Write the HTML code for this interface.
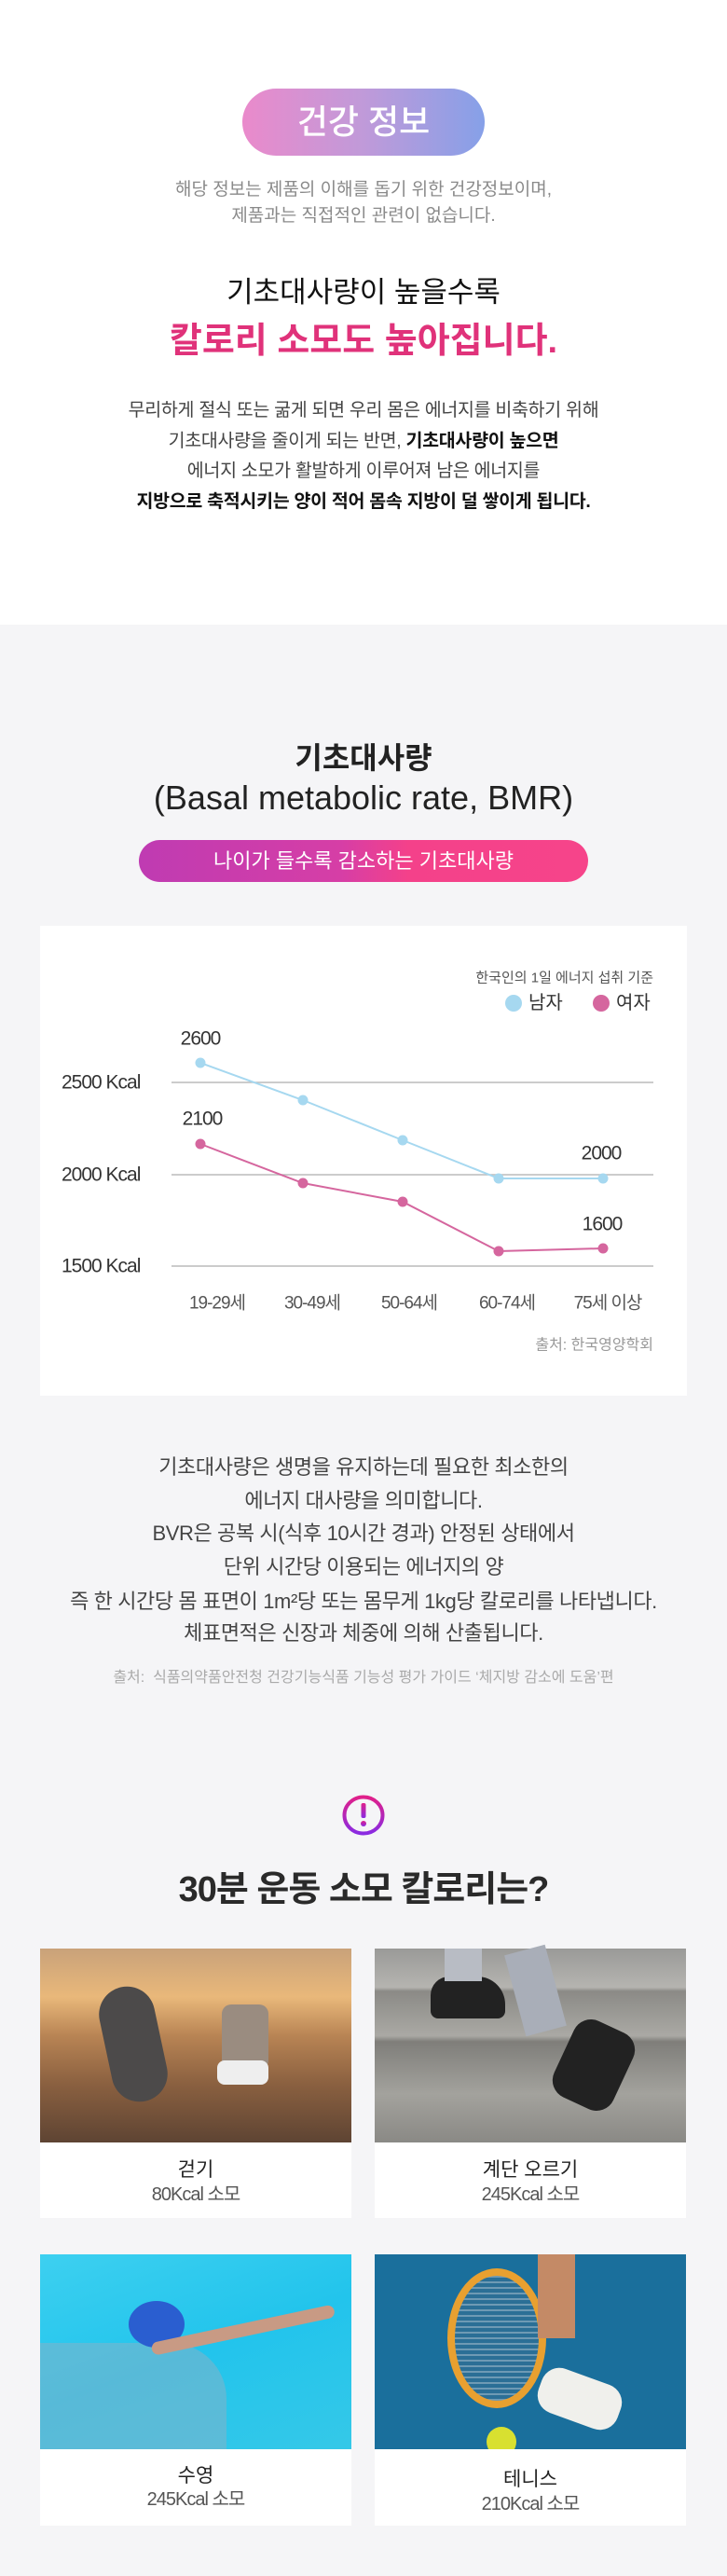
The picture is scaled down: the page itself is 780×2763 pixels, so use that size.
<!DOCTYPE html>
<html><head><meta charset="utf-8"><style>
*{margin:0;padding:0;box-sizing:border-box}
body{width:780px;height:2763px;position:relative;background:#f5f5f7;font-family:"Liberation Sans","Noto Sans CJK KR",sans-serif;overflow:hidden}
.c{position:absolute;left:0;width:780px;text-align:center;white-space:nowrap}
.abs{position:absolute}
</style></head><body>
<div class="abs" style="left:0;top:0;width:780px;height:670px;background:#fff"></div>
<div class="abs" style="left:260px;top:95px;width:260px;height:72px;border-radius:36px;background:linear-gradient(90deg,#ea8acb,#c09ad9 50%,#86a0e8);color:#fff;font-size:36px;line-height:72px;text-align:center;font-weight:500">건강 정보</div>
<div class="c" style="top:191px;font-size:19px;line-height:26px;color:#8a8a8a">해당 정보는 제품의 이해를 돕기 위한 건강정보이며,</div>
<div class="c" style="top:219px;font-size:19px;line-height:26px;color:#8a8a8a">제품과는 직접적인 관련이 없습니다.</div>
<div class="c" style="top:294px;font-size:31px;line-height:40px;color:#111">기초대사량이 높을수록</div>
<div class="c" style="top:344px;font-size:38px;line-height:44px;color:#e0327a;font-weight:bold">칼로리 소모도 높아집니다.</div>
<div class="c" style="top:426px;font-size:19.5px;line-height:28px;color:#444;letter-spacing:-0.3px">무리하게 절식 또는 굶게 되면 우리 몸은 에너지를 비축하기 위해</div>
<div class="c" style="top:459px;font-size:19.5px;line-height:28px;color:#444;letter-spacing:-0.3px">기초대사량을 줄이게 되는 반면, <b style="color:#111">기초대사량이 높으면</b></div>
<div class="c" style="top:491px;font-size:19.5px;line-height:28px;color:#444;letter-spacing:-0.3px">에너지 소모가 활발하게 이루어져 남은 에너지를</div>
<div class="c" style="top:524px;font-size:19.5px;line-height:28px;color:#111;font-weight:bold;letter-spacing:-0.3px">지방으로 축적시키는 양이 적어 몸속 지방이 덜 쌓이게 됩니다.</div>

<div class="c" style="top:793px;font-size:32px;line-height:40px;color:#222;font-weight:bold">기초대사량</div>
<div class="c" style="top:836px;font-size:36px;line-height:40px;color:#222">(Basal metabolic rate, BMR)</div>
<div class="abs" style="left:149px;top:901px;width:482px;height:45px;border-radius:23px;background:linear-gradient(90deg,#bf3bb2,#d63ea6 45%,#f4418a 60%,#f6448a);color:#fff;font-size:22px;line-height:45px;text-align:center">나이가 들수록 감소하는 기초대사량</div>

<div class="abs" style="left:43px;top:993px;width:694px;height:504px;background:#fff"></div>
<svg class="abs" style="left:0;top:993px" width="780" height="504" font-family="Liberation Sans, Noto Sans CJK KR, sans-serif">
<text x="701" y="56" text-anchor="end" dominant-baseline="central" font-size="15" fill="#555">한국인의 1일 에너지 섭취 기준</text>
<circle cx="551" cy="83" r="9" fill="#a6d8f0"/><text x="567" y="83" dominant-baseline="central" font-size="20" fill="#333">남자</text>
<circle cx="645" cy="83" r="9" fill="#d5669e"/><text x="661" y="83" dominant-baseline="central" font-size="20" fill="#333">여자</text>
<g stroke="#bbb" stroke-width="1.5"><line x1="184" y1="168" x2="701" y2="168"/><line x1="184" y1="267" x2="701" y2="267"/><line x1="184" y1="365" x2="701" y2="365"/></g>
<g font-size="21" fill="#333" dominant-baseline="central" letter-spacing="-1"><text x="66" y="168">2500 Kcal</text><text x="66" y="267">2000 Kcal</text><text x="66" y="365">1500 Kcal</text></g>
<polyline points="215,147 325,187 432,230 535,271 647,271" fill="none" stroke="#a6d8f0" stroke-width="2"/>
<polyline points="215,234 325,276 432,296 535,349 647,346" fill="none" stroke="#d5669e" stroke-width="2"/>
<g fill="#a6d8f0"><circle cx="215" cy="147" r="5.5"/><circle cx="325" cy="187" r="5.5"/><circle cx="432" cy="230" r="5.5"/><circle cx="535" cy="271" r="5.5"/><circle cx="647" cy="271" r="5.5"/></g>
<g fill="#d5669e"><circle cx="215" cy="234" r="5.5"/><circle cx="325" cy="276" r="5.5"/><circle cx="432" cy="296" r="5.5"/><circle cx="535" cy="349" r="5.5"/><circle cx="647" cy="346" r="5.5"/></g>
<g font-size="21" fill="#333" text-anchor="middle" dominant-baseline="central" letter-spacing="-1"><text x="215" y="121">2600</text><text x="217" y="207">2100</text><text x="645" y="244">2000</text><text x="646" y="320">1600</text></g>
<g font-size="19" fill="#555" text-anchor="middle" dominant-baseline="central" letter-spacing="-1"><text x="233" y="405">19-29세</text><text x="335" y="405">30-49세</text><text x="439" y="405">50-64세</text><text x="544" y="405">60-74세</text><text x="652" y="405">75세 이상</text></g>
<text x="701" y="450" text-anchor="end" dominant-baseline="central" font-size="16" fill="#999">출처: 한국영양학회</text>
</svg>

<div class="c" style="top:1558px;font-size:22px;line-height:32px;color:#444;letter-spacing:-0.4px">기초대사량은 생명을 유지하는데 필요한 최소한의</div>
<div class="c" style="top:1594px;font-size:22px;line-height:32px;color:#444;letter-spacing:-0.4px">에너지 대사량을 의미합니다.</div>
<div class="c" style="top:1629px;font-size:22px;line-height:32px;color:#444;letter-spacing:-0.4px">BVR은 공복 시(식후 10시간 경과) 안정된 상태에서</div>
<div class="c" style="top:1665px;font-size:22px;line-height:32px;color:#444;letter-spacing:-0.4px">단위 시간당 이용되는 에너지의 양</div>
<div class="c" style="top:1702px;font-size:22px;line-height:32px;color:#444;letter-spacing:-0.4px">즉 한 시간당 몸 표면이 1m²당 또는 몸무게 1kg당 칼로리를 나타냅니다.</div>
<div class="c" style="top:1736px;font-size:22px;line-height:32px;color:#444;letter-spacing:-0.4px">체표면적은 신장과 체중에 의해 산출됩니다.</div>
<div class="c" style="top:1789px;font-size:16px;line-height:22px;color:#aaa">출처:&nbsp; 식품의약품안전청 건강기능식품 기능성 평가 가이드 ‘체지방 감소에 도움’편</div>

<svg class="abs" style="left:366px;top:1924px" width="48" height="46">
<defs><linearGradient id="g1" x1="0" y1="0" x2="0" y2="1"><stop offset="0" stop-color="#e0208a"/><stop offset="1" stop-color="#8a2be2"/></linearGradient></defs>
<ellipse cx="24" cy="23" rx="20.5" ry="19.5" fill="none" stroke="url(#g1)" stroke-width="4"/>
<rect x="21.5" y="10" width="5" height="16" rx="2" fill="url(#g1)"/><circle cx="24" cy="32" r="3" fill="url(#g1)"/>
</svg>
<div class="c" style="top:2005px;font-size:38px;line-height:44px;color:#2a2a2a;font-weight:bold;letter-spacing:-1px">30분 운동 소모 칼로리는?</div>

<!-- cards -->
<div class="abs" style="left:43px;top:2090px;width:334px;height:208px;background:linear-gradient(180deg,#c9a27a 0%,#e9b87a 25%,#b88454 45%,#8a6040 70%,#5e4433 100%)">
 <div class="abs" style="left:70px;top:40px;width:60px;height:125px;border-radius:30px;background:#4c4a4a;transform:rotate(-12deg)"></div>
 <div class="abs" style="left:195px;top:60px;width:50px;height:70px;border-radius:10px;background:#9a8c80"></div>
 <div class="abs" style="left:190px;top:120px;width:55px;height:26px;border-radius:8px;background:#eee"></div>
</div>
<div class="abs" style="left:43px;top:2298px;width:334px;height:81px;background:#fff"></div>
<div class="abs" style="left:402px;top:2090px;width:334px;height:208px;background:linear-gradient(180deg,#9a9a98 0%,#b5b4b0 20%,#8b8a86 22%,#aaa9a4 45%,#7f7e7a 48%,#a3a29d 75%,#8a8985 100%)">
 <div class="abs" style="left:60px;top:30px;width:80px;height:45px;border-radius:20px 30px 8px 8px;background:#222"></div>
 <div class="abs" style="left:200px;top:80px;width:70px;height:90px;border-radius:20px;background:#222;transform:rotate(25deg)"></div>
 <div class="abs" style="left:75px;top:0;width:40px;height:35px;background:#b8bcc4"></div>
 <div class="abs" style="left:150px;top:0;width:45px;height:90px;background:#a9aeb8;transform:rotate(-15deg)"></div>
</div>
<div class="abs" style="left:402px;top:2298px;width:334px;height:81px;background:#fff"></div>
<div class="abs" style="left:43px;top:2418px;width:334px;height:209px;background:linear-gradient(160deg,#3dd0f0,#22c4ec 50%,#35c8e8)">
 <div class="abs" style="left:0;top:95px;width:200px;height:114px;background:#7cb4cc;opacity:.6;border-radius:0 60px 0 0"></div>
 <div class="abs" style="left:95px;top:50px;width:60px;height:50px;border-radius:50%;background:#2a5ed0"></div>
 <div class="abs" style="left:120px;top:95px;width:200px;height:14px;border-radius:7px;background:#c89a84;transform:rotate(-12deg);transform-origin:left center"></div>
</div>
<div class="abs" style="left:43px;top:2627px;width:334px;height:82px;background:#fff"></div>
<div class="abs" style="left:402px;top:2418px;width:334px;height:209px;background:#1a6f9c;overflow:hidden">
 <div class="abs" style="left:78px;top:15px;width:106px;height:150px;border-radius:50%;border:8px solid #e8a030;background:repeating-linear-gradient(0deg,#6e9ab4 0 2px,#2b6f96 2px 6px)"></div>
 <div class="abs" style="left:120px;top:185px;width:32px;height:32px;border-radius:50%;background:#d8e030"></div>
 <div class="abs" style="left:175px;top:0;width:40px;height:90px;background:#c48a66"></div>
 <div class="abs" style="left:175px;top:130px;width:90px;height:50px;border-radius:20px;background:#f0f0ec;transform:rotate(20deg)"></div>
</div>
<div class="abs" style="left:402px;top:2627px;width:334px;height:82px;background:#fff"></div>

<div class="abs" style="left:43px;top:2315px;width:334px;text-align:center;font-size:21px;line-height:26px;color:#222">걷기</div>
<div class="abs" style="left:43px;top:2341px;width:334px;text-align:center;font-size:20px;line-height:26px;color:#555;letter-spacing:-1px">80Kcal 소모</div>
<div class="abs" style="left:402px;top:2315px;width:334px;text-align:center;font-size:21px;line-height:26px;color:#222">계단 오르기</div>
<div class="abs" style="left:402px;top:2341px;width:334px;text-align:center;font-size:20px;line-height:26px;color:#555;letter-spacing:-1px">245Kcal 소모</div>
<div class="abs" style="left:43px;top:2643px;width:334px;text-align:center;font-size:21px;line-height:26px;color:#222">수영</div>
<div class="abs" style="left:43px;top:2668px;width:334px;text-align:center;font-size:20px;line-height:26px;color:#555;letter-spacing:-1px">245Kcal 소모</div>
<div class="abs" style="left:402px;top:2647px;width:334px;text-align:center;font-size:21px;line-height:26px;color:#222">테니스</div>
<div class="abs" style="left:402px;top:2673px;width:334px;text-align:center;font-size:20px;line-height:26px;color:#555;letter-spacing:-1px">210Kcal 소모</div>
</body></html>
